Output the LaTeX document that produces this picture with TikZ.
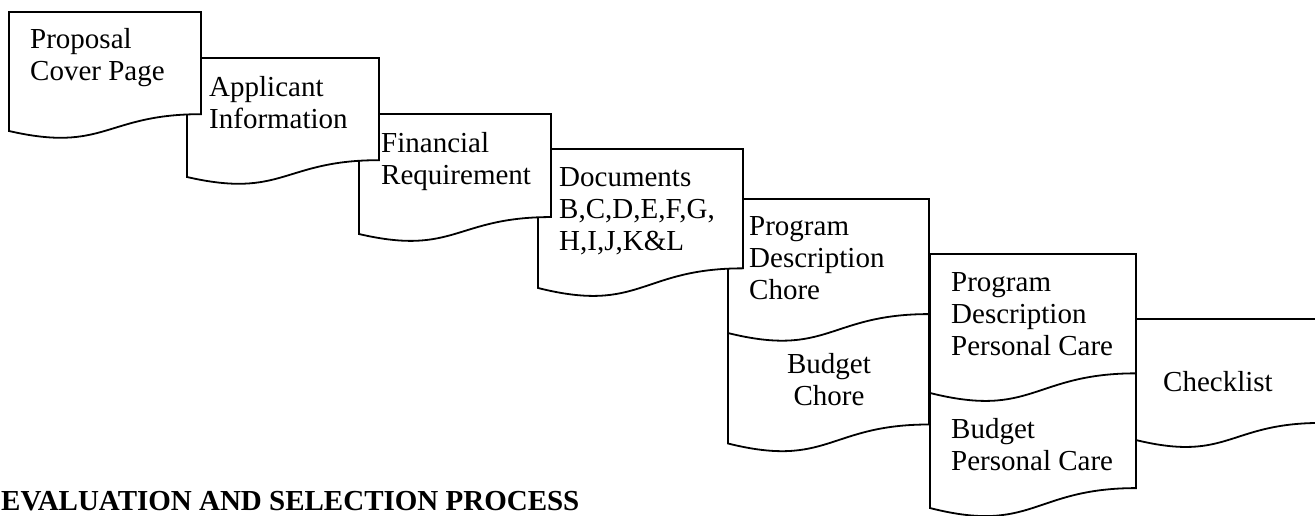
\documentclass[tikz,border=0pt]{standalone}
\usepackage{fontspec}
\setmainfont{Liberation Serif}
\newcommand{\fl}{\rule{0pt}{21.75pt}}
\newcommand{\docpath}[4]{%
  \filldraw[doc] (#1,#2) -- ({#1+#3},#2) -- ({#1+#3},{#2+0.802*#4})
    .. controls ({#1+0.5*#3},{#2+0.802*#4}) and ({#1+0.5*#3},{#2+1.1075*#4}) ..
    (#1,{#2+0.934*#4}) -- cycle;}
\tikzset{
  doc/.style={draw=black, fill=white, line width=1.8pt, line join=miter},
  lbl/.style={inner sep=0pt, anchor=north west, align=left, font=\fontsize{29}{32}\selectfont}
}
\begin{document}
\begin{tikzpicture}[x=1pt,y=-1pt]
\useasboundingbox (0,0) rectangle (1315,515);
\fill[white] (0,0) rectangle (1315,515);
\begin{scope}
\clip (0,0) rectangle (1315,515);
% shapes, back to front
\docpath{1136}{319}{185}{129.6}
\docpath{930}{367}{206}{151}
\docpath{930}{254}{206}{148.8}
\docpath{728}{309}{201}{144}
\docpath{728}{199}{201}{143.5}
\docpath{538}{149}{205}{148.8}
\docpath{359}{114}{192}{128.5}
\docpath{187}{58}{192}{127.4}
\docpath{9}{12}{192}{127.4}
\end{scope}
% labels
\node[lbl] (proposal) at (30,{48-21.75}) {\fl Proposal\\Cover Page};
\node[lbl] (applicant) at (209,{96-21.75}) {\fl Applicant\\Information};
\node[lbl] (financial) at (381,{152-21.75}) {\fl Financial\\Requirement};
\node[lbl] (documents) at (559,{186-21.75}) {\fl Documents\\B,C,D,E,F,G,\\H,I,J,K\&L};
\node[lbl] (pdchore) at (749,{235-21.75}) {\fl Program\\Description\\Chore};
\node[lbl, anchor=north, align=center] (budgetchore) at (829,{373-21.75}) {\fl Budget\\Chore};
\node[lbl] (pdpc) at (951,{291-21.75}) {\fl Program\\Description\\Personal Care};
\node[lbl] (budgetpc) at (951,{438-21.75}) {\fl Budget\\Personal Care};
\node[lbl] (checklist) at (1163,{391-21.75}) {\fl Checklist};
\node[anchor=base west, inner sep=0pt, font=\fontsize{29}{32}\selectfont\bfseries] (title) at (1,510) {EVALUATION AND SELECTION PROCESS};
\end{tikzpicture}
\end{document}
